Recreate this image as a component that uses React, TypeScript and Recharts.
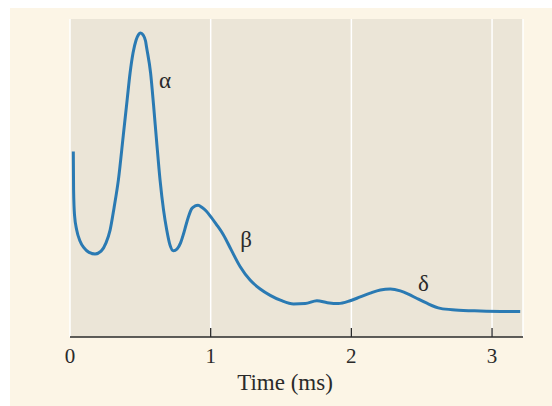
import {
	LineChart,
	Line,
	XAxis,
	YAxis,
	CartesianGrid,
	ReferenceDot,
	Label,
} from "recharts";

// time in ms
const TIME = [
	0.0235, 0.0256, 0.032, 0.048, 0.071, 0.1, 0.135, 0.178, 0.221, 0.256, 0.285,
	0.313, 0.344, 0.379, 0.406, 0.427, 0.448, 0.47, 0.487, 0.502, 0.519, 0.537,
	0.544, 0.573, 0.594, 0.615, 0.64, 0.665, 0.688, 0.711, 0.735, 0.761, 0.786,
	0.806, 0.825, 0.842, 0.864, 0.889, 0.91, 0.939, 0.968, 0.996, 1.039, 1.091,
	1.146, 1.21, 1.28, 1.352, 1.423, 1.5, 1.589, 1.672, 1.755, 1.829, 1.907,
	1.992, 2.063, 2.134, 2.206, 2.277, 2.348, 2.405, 2.467, 2.533, 2.633, 2.739,
	2.917, 3.2,
];

// response amplitude (arbitrary units)
const AMPLITUDE = [
	58.3, 46.2, 38.4, 33.6, 30.2, 28.0, 26.6, 26.1, 27.0, 29.6, 33.6, 40.6, 49.4,
	63.5, 74.5, 83.0, 89.3, 93.4, 95.1, 95.6, 95.0, 93.1, 91.2, 83.0, 72.9, 61.9,
	49.4, 39.9, 33.6, 28.9, 27.1, 27.7, 29.6, 32.3, 35.3, 37.8, 40.3, 41.2, 41.4,
	40.7, 39.6, 38.1, 35.5, 32.1, 27.4, 22.1, 17.9, 15.1, 13.1, 11.5, 10.4, 10.5,
	11.4, 10.8, 10.5, 11.4, 12.6, 13.8, 14.8, 15.1, 14.5, 13.5, 12.1, 10.7, 9.0,
	8.5, 8.2, 8.0,
];

const X_TICKS = [0, 1, 2, 3];

const PEAKS = [
	{ name: "α", t: 0.676, v: 81 },
	{ name: "β", t: 1.252, v: 31 },
	{ name: "δ", t: 2.512, v: 17 },
];

const data = TIME.map((t, i) => ({ t, v: AMPLITUDE[i] }));

const FONT = "'Liberation Serif', 'DejaVu Serif', serif";
const INK = "#2a2a2a";

function TimeTick(props: any) {
	const { x, y, payload } = props;
	return (
		<g>
			{payload.value !== 0 && (
				<line x1={x} x2={x} y1={y - 9} y2={y} stroke={INK} strokeWidth={1.3} />
			)}
			<text
				x={x}
				y={y + 26}
				textAnchor="middle"
				fontFamily={FONT}
				fontSize={21}
				fill={INK}>
				{payload.value}
			</text>
		</g>
	);
}

export default function App() {
	return (
		<div
			style={{
				position: "fixed",
				left: 0,
				top: 0,
				width: 552,
				height: 406,
				background: "#ffffff",
			}}>
			<div
				style={{
					position: "absolute",
					left: 10,
					top: 8,
					width: 542,
					height: 398,
					background: "#fcf5e6",
				}}
			/>
			<div style={{ position: "absolute", left: 0, top: 0 }}>
				<LineChart
					width={552}
					height={406}
					data={data}
					margin={{ top: 19, right: 29, left: 70, bottom: 0 }}>
					<CartesianGrid
						horizontal={false}
						vertical
						stroke="#ffffff"
						strokeWidth={1.5}
						fill="#ebe5d7"
						fillOpacity={1}
					/>
					<XAxis
						dataKey="t"
						type="number"
						domain={[0, 3.22]}
						ticks={X_TICKS}
						allowDataOverflow
						height={69}
						tickSize={0}
						tickMargin={0}
						tickLine={false}
						tick={<TimeTick />}
						axisLine={{ stroke: INK, strokeWidth: 1.3 }}>
						<Label
							content={() => (
								<text
									x={285}
									y={390}
									textAnchor="middle"
									fontFamily={FONT}
									fontSize={23}
									fill={INK}>
									Time (ms)
								</text>
							)}
						/>
					</XAxis>
					<YAxis
						type="number"
						domain={[0, 100]}
						width={0}
						tick={false}
						tickLine={false}
						axisLine={{ stroke: INK, strokeWidth: 1.3 }}
					/>
					<Line
						type="monotone"
						dataKey="v"
						stroke="#2a7ab3"
						strokeWidth={3}
						dot={false}
						isAnimationActive={false}
					/>
					{PEAKS.map((p) => (
						<ReferenceDot
							key={p.name}
							x={p.t}
							y={p.v}
							r={0}
							stroke="none"
							fill="none"
							label={{
								value: p.name,
								position: "center",
								fontFamily: FONT,
								fontSize: 23,
								fill: INK,
							}}
						/>
					))}
				</LineChart>
			</div>
		</div>
	);
}
